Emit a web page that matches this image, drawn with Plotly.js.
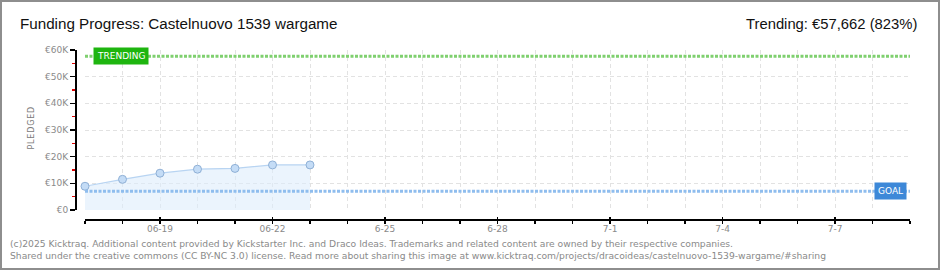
<!DOCTYPE html>
<html><head><meta charset="utf-8">
<script src="https://cdn.plot.ly/plotly-3.0.1.min.js"></script>
<style>
html,body{margin:0;padding:0;background:#fff;}
#wrap{position:relative;width:940px;height:270px;}
#chart{width:940px;height:270px;}
#frame{position:absolute;left:0;top:0;width:940px;height:270px;box-sizing:border-box;border:2px solid #8e8e8e;pointer-events:none;}
</style>
</head><body>
<div id="wrap"><div id="chart"></div><div id="frame"></div></div>
<script>
// ---- data ----
const dates = ["2025-06-17","2025-06-18","2025-06-19","2025-06-20","2025-06-21","2025-06-22","2025-06-23"];
const pledged = [8900, 11500, 13800, 15300, 15600, 16900, 16900];
const goal = 7000;
const trending = 57662;
const rangeStart = "2025-06-17";
const rangeEnd = "2025-07-09";
const tickDates = ["2025-06-19","2025-06-22","2025-06-25","2025-06-28","2025-07-01","2025-07-04","2025-07-07"];
const tickLabels = ["06-19","06-22","6-25","6-28","7-1","7-4","7-7"];
const yTickVals = [0,10000,20000,30000,40000,50000,60000];
const yTickText = ["€0","€10K","€20K","€30K","€40K","€50K","€60K"];
const titleText = "Funding Progress: Castelnuovo 1539 wargame";
const trendText = "Trending: €57,662 (823%)";
const footer1 = "(c)2025 Kicktraq. Additional content provided by Kickstarter Inc. and Draco Ideas. Trademarks and related content are owned by their respective companies.";
const footer2 = "Shared under the creative commons (CC BY-NC 3.0) license. Read more about sharing this image at www.kicktraq.com/projects/dracoideas/castelnuovo-1539-wargame/#sharing";

// ---- geometry (pixels) ----
const W = 940, H = 270;
const mL = 76, mR = 30, mT = 50, mB = 50;
const pw = W - mL - mR, ph = H - mT - mB;
const px = x => (x - mL) / pw;          // page x -> paper x
const py = y => (H - mB - y) / ph;      // page y -> paper y

const headFont = "'Liberation Sans', Arial, sans-serif";
const tickFont = {family: "'DejaVu Sans', sans-serif", size: 9, color: "#8a8a8a"};

const traces = [
  {x: dates, y: pledged, type: 'scatter', mode: 'lines+markers', fill: 'tozeroy', cliponaxis: false,
   fillcolor: 'rgba(222,236,252,0.6)', line: {color: '#b8d4f2', width: 1.2},
   marker: {size: 8, color: '#c4dcf6', line: {color: '#8fb0d6', width: 1}},
   xaxis: 'x', yaxis: 'y', hoverinfo: 'skip'},
  {x: [rangeStart, rangeEnd], y: [goal, goal], type: 'scatter', mode: 'lines',
   line: {color: '#8fbdee', width: 3, dash: '3px,1.5px'}, xaxis: 'x', yaxis: 'y', hoverinfo: 'skip'},
  {x: [rangeStart, rangeEnd], y: [trending, trending], type: 'scatter', mode: 'lines',
   line: {color: '#7fd06f', width: 3, dash: '3px,1.5px'}, xaxis: 'x', yaxis: 'y', hoverinfo: 'skip'},
  {x: [rangeStart], y: [0], xaxis: 'x2', yaxis: 'y', mode: 'markers', marker: {opacity: 0}, hoverinfo: 'skip'},
  {x: [rangeStart], y: [0], xaxis: 'x3', yaxis: 'y', mode: 'markers', marker: {opacity: 0}, hoverinfo: 'skip'}
];

const xDomain = [px(85), 1];
const xRange = [rangeStart, rangeEnd];
const dayMs = 86400000;

const layout = {
  width: W, height: H,
  margin: {l: mL, r: mR, t: mT, b: mB, pad: 0},
  paper_bgcolor: '#ffffff', plot_bgcolor: 'rgba(0,0,0,0)',
  showlegend: false,
  title: {text: titleText, x: 20 / W, xref: 'container', xanchor: 'left',
          y: 1 - 24 / H, yref: 'container', yanchor: 'middle',
          font: {family: headFont, size: 15.2, color: '#111111'}},
  xaxis: {type: 'date', range: xRange, domain: xDomain, anchor: 'y',
          showgrid: true, gridcolor: '#e2e2e2', griddash: '4px,3px', gridwidth: 1,
          dtick: dayMs, tick0: rangeStart, showticklabels: false, ticks: '',
          showline: false, zeroline: false},
  xaxis2: {type: 'date', range: xRange, domain: xDomain, overlaying: 'x', anchor: 'free', position: 0,
           showgrid: false, showline: true, linecolor: '#000', linewidth: 2,
           tickmode: 'linear', dtick: dayMs, tick0: rangeStart, ticks: 'outside', ticklen: 3,
           tickcolor: '#000', tickwidth: 1.5, showticklabels: false, zeroline: false},
  xaxis3: {type: 'date', range: xRange, domain: xDomain, overlaying: 'x', anchor: 'free', position: 0,
           showgrid: false, showline: false,
           tickmode: 'array', tickvals: tickDates, ticktext: tickLabels,
           ticks: 'inside', ticklen: 3, tickcolor: '#000', tickwidth: 1.5, ticklabelstandoff: 2,
           tickfont: tickFont, zeroline: false},
  yaxis: {range: [0, 60000], domain: [py(210), 1], anchor: 'free', position: 0,
          tickmode: 'array', tickvals: yTickVals, ticktext: yTickText, tickfont: tickFont,
          ticks: 'outside', ticklen: 5, tickcolor: '#000', tickwidth: 1.5,
          minor: {dtick: 5000, tick0: 0, ticks: 'outside', ticklen: 3, tickcolor: '#e00000', tickwidth: 1.5, showgrid: false},
          showline: true, linecolor: '#000', linewidth: 2,
          showgrid: true, gridcolor: '#e2e2e2', griddash: '4px,3px', gridwidth: 1,
          zeroline: false, fixedrange: true},
  annotations: [
    {text: trendText, xref: 'paper', yref: 'paper', x: px(919), y: py(24), xanchor: 'right', yanchor: 'middle',
     showarrow: false, font: {family: headFont, size: 14.8, color: '#111111'}},
    {text: 'P\u200aL\u200aE\u200aD\u200aG\u200aE\u200aD', xref: 'paper', yref: 'paper', x: px(24), y: py(128),
     textangle: -90, showarrow: false, font: {family: "'DejaVu Sans', sans-serif", size: 8, color: '#7a7a7a'}},
    {text: 'TRENDING', xref: 'x', yref: 'y', x: "2025-06-17 05:00", y: trending, xanchor: 'left', yanchor: 'middle',
     showarrow: false, bgcolor: '#1eb50f', borderpad: 3,
     font: {family: "'DejaVu Sans', sans-serif", size: 9, color: '#ffffff'}},
    {text: 'GOAL', xref: 'x', yref: 'y', x: "2025-07-08 22:00", y: goal, xanchor: 'right', yanchor: 'middle',
     showarrow: false, bgcolor: '#3d88d8', borderpad: 3,
     font: {family: "'DejaVu Sans', sans-serif", size: 9, color: '#ffffff'}},
    {text: footer1, xref: 'paper', yref: 'paper', x: px(8), y: py(243), xanchor: 'left', yanchor: 'middle',
     showarrow: false, font: {family: "'DejaVu Sans', sans-serif", size: 9.2, color: '#8a8a8a'}},
    {text: footer2, xref: 'paper', yref: 'paper', x: px(8), y: py(256), xanchor: 'left', yanchor: 'middle',
     showarrow: false, font: {family: "'DejaVu Sans', sans-serif", size: 9.2, color: '#8a8a8a'}}
  ]
};

Plotly.newPlot('chart', traces, layout, {staticPlot: true, displayModeBar: false});
</script>
</body></html>
